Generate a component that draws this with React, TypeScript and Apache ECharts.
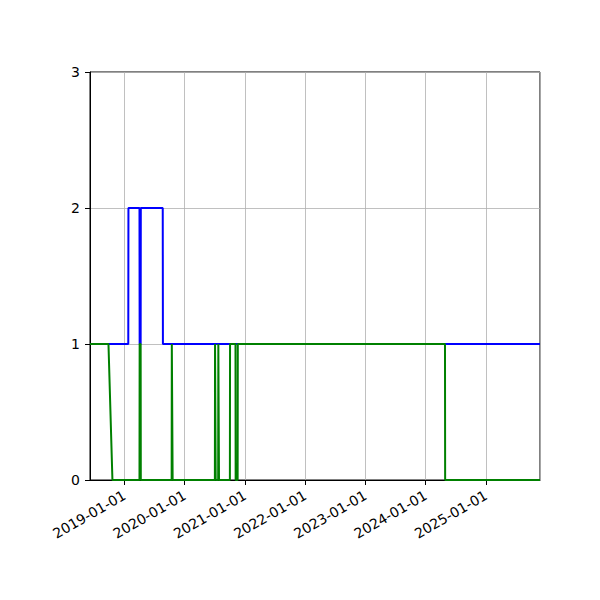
import { useEffect, useRef } from "react";
import * as echarts from "echarts";

// x range shown on the axis
const xStart = "2018-06-06";
const xEnd = "2025-11-24";

const yTicks = [0, 1, 2, 3];

// blue series: [date, value]
const blueDates = [
  "2018-06-06", "2019-01-24", "2019-01-25", "2019-04-02", "2019-04-03",
  "2019-04-09", "2019-04-10", "2019-08-21", "2019-08-22", "2025-11-24",
];
const blueValues = [1, 1, 2, 2, 1, 1, 2, 2, 1, 1];

// green series: [date, value]
const greenDates = [
  "2018-06-06", "2018-09-26", "2018-10-20",
  "2019-04-02", "2019-04-03", "2019-04-09", "2019-04-10",
  "2019-10-14", "2019-10-15", "2019-10-19", "2019-10-20",
  "2020-07-02", "2020-07-03", "2020-07-06", "2020-07-07",
  "2020-07-22", "2020-07-23", "2020-07-26", "2020-07-27",
  "2020-10-01", "2020-10-02",
  "2020-11-04", "2020-11-05", "2020-11-17", "2020-11-18",
  "2024-04-27", "2024-04-28", "2025-11-24",
];
const greenValues = [
  1, 1, 0,
  0, 1, 1, 0,
  0, 1, 1, 0,
  0, 1, 1, 0,
  0, 1, 1, 0,
  0, 1,
  1, 0, 0, 1,
  1, 0, 0,
];

const DAY = 24 * 3600 * 1000;

const pad = (n: number) => String(n).padStart(2, "0");
const fmtDate = (v: number) => {
  const d = new Date(v);
  return `${d.getUTCFullYear()}-${pad(d.getUTCMonth() + 1)}-${pad(d.getUTCDate())}`;
};

const toPairs = (dates: string[], values: number[]) =>
  dates.map((d, i) => [Date.parse(d), values[i]]);

export default function App() {
  const ref = useRef<HTMLDivElement | null>(null);

  useEffect(() => {
    if (!ref.current) return;
    const chart = echarts.init(ref.current, undefined, { renderer: "svg" });
    const textStyle = { color: "#000", fontSize: 14, fontFamily: "DejaVu Sans" };
    chart.setOption({
      animation: false,
      useUTC: true,
      backgroundColor: "#fff",
      grid: {
        left: 90,
        right: 60,
        top: 72,
        bottom: 120,
        show: true,
        borderColor: "#000",
        borderWidth: 1,
        backgroundColor: "transparent",
      },
      xAxis: {
        type: "time",
        min: Date.parse(xStart),
        max: Date.parse(xEnd),
        minInterval: 365 * DAY,
        maxInterval: 366 * DAY,
        axisLine: { lineStyle: { color: "#000", width: 1 } },
        axisTick: { show: true, length: 5, lineStyle: { color: "#000" } },
        axisLabel: {
          ...textStyle,
          rotate: 30,
          margin: 14,
          showMinLabel: false,
          showMaxLabel: false,
          formatter: (v: number) => fmtDate(v),
        },
        splitLine: { show: true, lineStyle: { color: "#b0b0b0", width: 0.8 } },
      },
      yAxis: {
        type: "value",
        min: yTicks[0],
        max: yTicks[yTicks.length - 1],
        interval: 1,
        axisLine: { show: true, lineStyle: { color: "#000", width: 1 } },
        axisTick: { show: true, length: 5, lineStyle: { color: "#000" } },
        axisLabel: { ...textStyle, margin: 10 },
        splitLine: { show: true, lineStyle: { color: "#b0b0b0", width: 0.8 } },
      },
      series: [
        {
          type: "line",
          data: toPairs(blueDates, blueValues),
          showSymbol: false,
          lineStyle: { color: "#0000ff", width: 2 },
          itemStyle: { color: "#0000ff" },
        },
        {
          type: "line",
          data: toPairs(greenDates, greenValues),
          showSymbol: false,
          lineStyle: { color: "#008000", width: 2 },
          itemStyle: { color: "#008000" },
        },
      ],
    });
    return () => chart.dispose();
  }, []);

  return <div ref={ref} style={{ width: 600, height: 600, margin: -8 }} />;
}
